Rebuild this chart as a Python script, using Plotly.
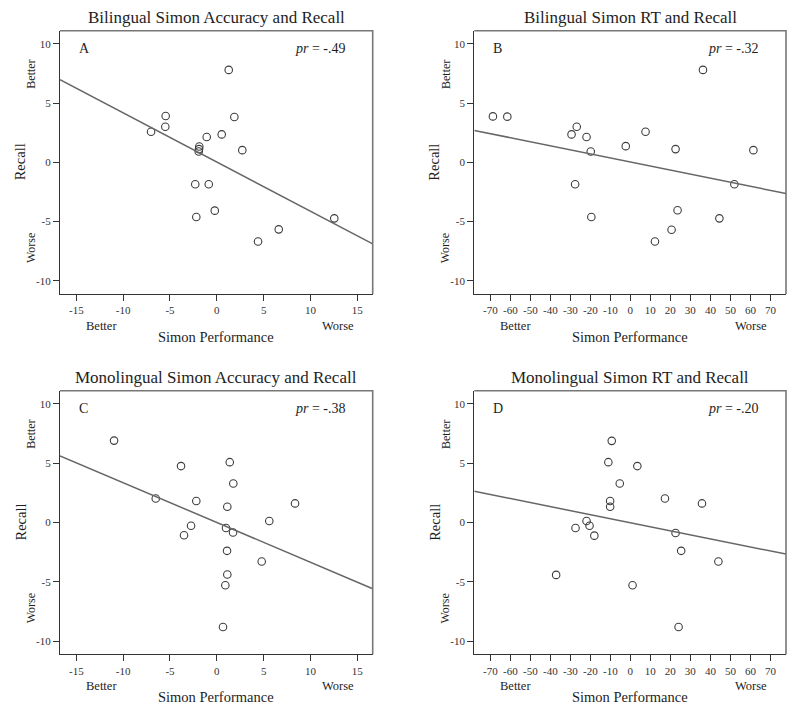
import plotly.graph_objects as go

# ---------------- data ----------------
titles = ["Bilingual Simon Accuracy and Recall", "Bilingual Simon RT and Recall",
          "Monolingual Simon Accuracy and Recall", "Monolingual Simon RT and Recall"]
letters = ["A", "B", "C", "D"]
pr_values = ["-.49", "-.32", "-.38", "-.20"]

a_x = [1.27, -5.46, -5.50, -7.02, 1.87, 0.52, -1.08, -1.87, -1.90, -1.93, 2.72, -2.30, -0.86, -2.19, -0.22, 12.54, 6.61, 4.40]
a_y = [7.81, 3.92, 3.01, 2.58, 3.83, 2.36, 2.14, 1.34, 1.12, 0.92, 1.03, -1.85, -1.85, -4.62, -4.08, -4.73, -5.66, -6.68]

b_x = [-68.7, -61.5, -26.8, -29.4, -21.9, -19.8, -2.3, 7.6, 22.6, 61.5, 36.3, -27.6, 52.0, -19.5, 23.6, 44.5, 20.6, 12.3]
b_y = [3.88, 3.86, 3.01, 2.36, 2.14, 0.92, 1.37, 2.58, 1.12, 1.03, 7.81, -1.85, -1.85, -4.62, -4.05, -4.73, -5.69, -6.68]

c_x = [-10.97, -3.82, 1.38, 1.76, -6.52, -2.19, 8.35, 1.12, 5.60, -2.75, -3.50, 0.98, 1.73, 1.09, 4.79, 1.12, 0.91, 0.66]
c_y = [6.91, 4.76, 5.09, 3.29, 2.03, 1.81, 1.61, 1.33, 0.13, -0.27, -1.08, -0.46, -0.85, -2.39, -3.29, -4.39, -5.29, -8.82]

d_x = [-9.3, -11.0, 3.5, -5.3, 17.3, -10.1, -10.1, 35.8, -21.9, -20.4, -27.4, -18.0, 22.6, 25.4, 44.0, -37.1, 1.1, 24.1]
d_y = [6.89, 5.09, 4.76, 3.29, 2.03, 1.81, 1.33, 1.61, 0.13, -0.27, -0.46, -1.11, -0.88, -2.39, -3.29, -4.42, -5.29, -8.82]

# fit lines: slope, intercept
fit_slope = [-0.416, -0.0342, -0.336, -0.034]
fit_intercept = [0.03, 0.03, 0.0, -0.02]

acc_ticks = [-15, -10, -5, 0, 5, 10, 15]
acc_labels = ["-15", "-10", "-5", "0", "5", "10", "15"]
rt_ticks = [-70, -60, -50, -40, -30, -20, -10, 0, 10, 20, 30, 40, 50, 60, 70]
rt_labels = ["-70", "-60", "-50", "-40", "-30", "-20", "-10", "0", "10", "20", "30", "40", "50", "60", "70"]
y_ticks = [-10, -5, 0, 5, 10]
y_labels = ["-10", "-5", "0", "5", "10"]

# ---------------- layout ----------------
OFF = 8  # page body margin
W, H = 800 - OFF, 711 - OFF
FONT = "Liberation Serif"
TXT = "#1e1e1e"

def px(x):
    return (x - OFF) / W

def py(y):
    return 1 - (y - OFF) / H

panels = [
    dict(xs=a_x, ys=a_y, xr=[-16.74, 16.64], ticks=acc_ticks, labels=acc_labels, x0=60, x1=372.7, y0=30.7, y1=294),
    dict(xs=b_x, ys=b_y, xr=[-78, 77.8], ticks=rt_ticks, labels=rt_labels, x0=474.3, x1=786, y0=30.7, y1=294),
    dict(xs=c_x, ys=c_y, xr=[-16.74, 16.64], ticks=acc_ticks, labels=acc_labels, x0=60, x1=372.7, y0=390.7, y1=654.3),
    dict(xs=d_x, ys=d_y, xr=[-78, 77.8], ticks=rt_ticks, labels=rt_labels, x0=474.3, x1=786, y0=390.7, y1=654.3),
]
yr = [-11.12, 11.12]

fig = go.Figure()
annotations = []
shapes = []
layout = dict(width=W, height=H, margin=dict(l=0, r=0, t=0, b=0),
              paper_bgcolor="white", plot_bgcolor="white", showlegend=False,
              font=dict(family=FONT, color=TXT))

for i, p in enumerate(panels):
    n = "" if i == 0 else str(i + 1)
    xa, ya = "x" + n, "y" + n
    fig.add_trace(go.Scatter(x=p["xs"], y=p["ys"], mode="markers", xaxis=xa, yaxis=ya,
                             marker=dict(symbol="circle-open", size=7.5, color="#3c3c3c",
                                         line=dict(width=1.1, color="#3c3c3c")),
                             hoverinfo="skip"))
    lx = p["xr"]
    ly = [fit_slope[i] * v + fit_intercept[i] for v in lx]
    fig.add_trace(go.Scatter(x=lx, y=ly, mode="lines", xaxis=xa, yaxis=ya,
                             line=dict(color="#666666", width=1.5), hoverinfo="skip"))
    layout["xaxis" + n] = dict(domain=[px(p["x0"]), px(p["x1"])], range=p["xr"], anchor=ya,
                               tickvals=p["ticks"], ticktext=p["labels"], ticks="outside",
                               ticklen=6, tickwidth=1, tickcolor="#333", showline=True,
                               linecolor="#333", linewidth=1.3, mirror=False, showgrid=False,
                               zeroline=False, tickfont=dict(size=11, family=FONT, color="#333"))
    layout["yaxis" + n] = dict(domain=[py(p["y1"]), py(p["y0"])], range=yr, anchor=xa,
                               tickvals=y_ticks, ticktext=y_labels, ticks="outside", ticklen=6,
                               tickwidth=1, tickcolor="#333", showline=True, linecolor="#333",
                               linewidth=1.3, mirror=False, showgrid=False, zeroline=False,
                               tickfont=dict(size=11, family=FONT, color="#333"))
    # grey top/right frame
    shapes.append(dict(type="path", xref=xa + " domain", yref=ya + " domain",
                       path="M 0,1 L 1,1 L 1,0", line=dict(color="#777777", width=1.6)))
    cx = (p["x0"] + p["x1"]) / 2
    cy = (p["y0"] + p["y1"]) / 2
    # title
    annotations.append(dict(text=titles[i], x=px(cx), y=py(p["y0"] - 13), xref="paper", yref="paper",
                            showarrow=False, xanchor="center", yanchor="middle",
                            font=dict(size=17, family=FONT, color=TXT)))
    # panel letter
    annotations.append(dict(text=letters[i], x=px(p["x0"] + 17), y=py(p["y0"] + 18), xref="paper",
                            yref="paper", showarrow=False, xanchor="left", yanchor="middle",
                            font=dict(size=14, family=FONT, color=TXT)))
    # pr value
    annotations.append(dict(text="<i>pr</i> = " + pr_values[i], x=px(p["x1"] - 25), y=py(p["y0"] + 18),
                            xref="paper", yref="paper", showarrow=False, xanchor="right",
                            yanchor="middle", font=dict(size=14, family=FONT, color=TXT)))
    # y axis labels
    annotations.append(dict(text="Recall", x=px(p["x0"] - 40), y=py(cy), xref="paper", yref="paper",
                            showarrow=False, textangle=-90, xanchor="center", yanchor="middle",
                            font=dict(size=14.5, family=FONT, color=TXT)))
    annotations.append(dict(text="Better", x=px(p["x0"] - 29), y=py(p["y0"] + 44), xref="paper",
                            yref="paper", showarrow=False, textangle=-90, xanchor="center",
                            yanchor="middle", font=dict(size=12, family=FONT, color=TXT)))
    annotations.append(dict(text="Worse", x=px(p["x0"] - 29), y=py(p["y1"] - 46), xref="paper",
                            yref="paper", showarrow=False, textangle=-90, xanchor="center",
                            yanchor="middle", font=dict(size=12, family=FONT, color=TXT)))
    # x axis labels
    annotations.append(dict(text="Better", x=px(p["x0"] + 41), y=py(p["y1"] + 32), xref="paper",
                            yref="paper", showarrow=False, xanchor="center", yanchor="middle",
                            font=dict(size=12.5, family=FONT, color=TXT)))
    annotations.append(dict(text="Worse", x=px(p["x1"] - 35), y=py(p["y1"] + 32), xref="paper",
                            yref="paper", showarrow=False, xanchor="center", yanchor="middle",
                            font=dict(size=12.5, family=FONT, color=TXT)))
    annotations.append(dict(text="Simon Performance", x=px(cx), y=py(p["y1"] + 43), xref="paper",
                            yref="paper", showarrow=False, xanchor="center", yanchor="middle",
                            font=dict(size=14.5, family=FONT, color=TXT)))

layout["annotations"] = annotations
layout["shapes"] = shapes
fig.update_layout(**layout)
fig.write_html("out.html")
